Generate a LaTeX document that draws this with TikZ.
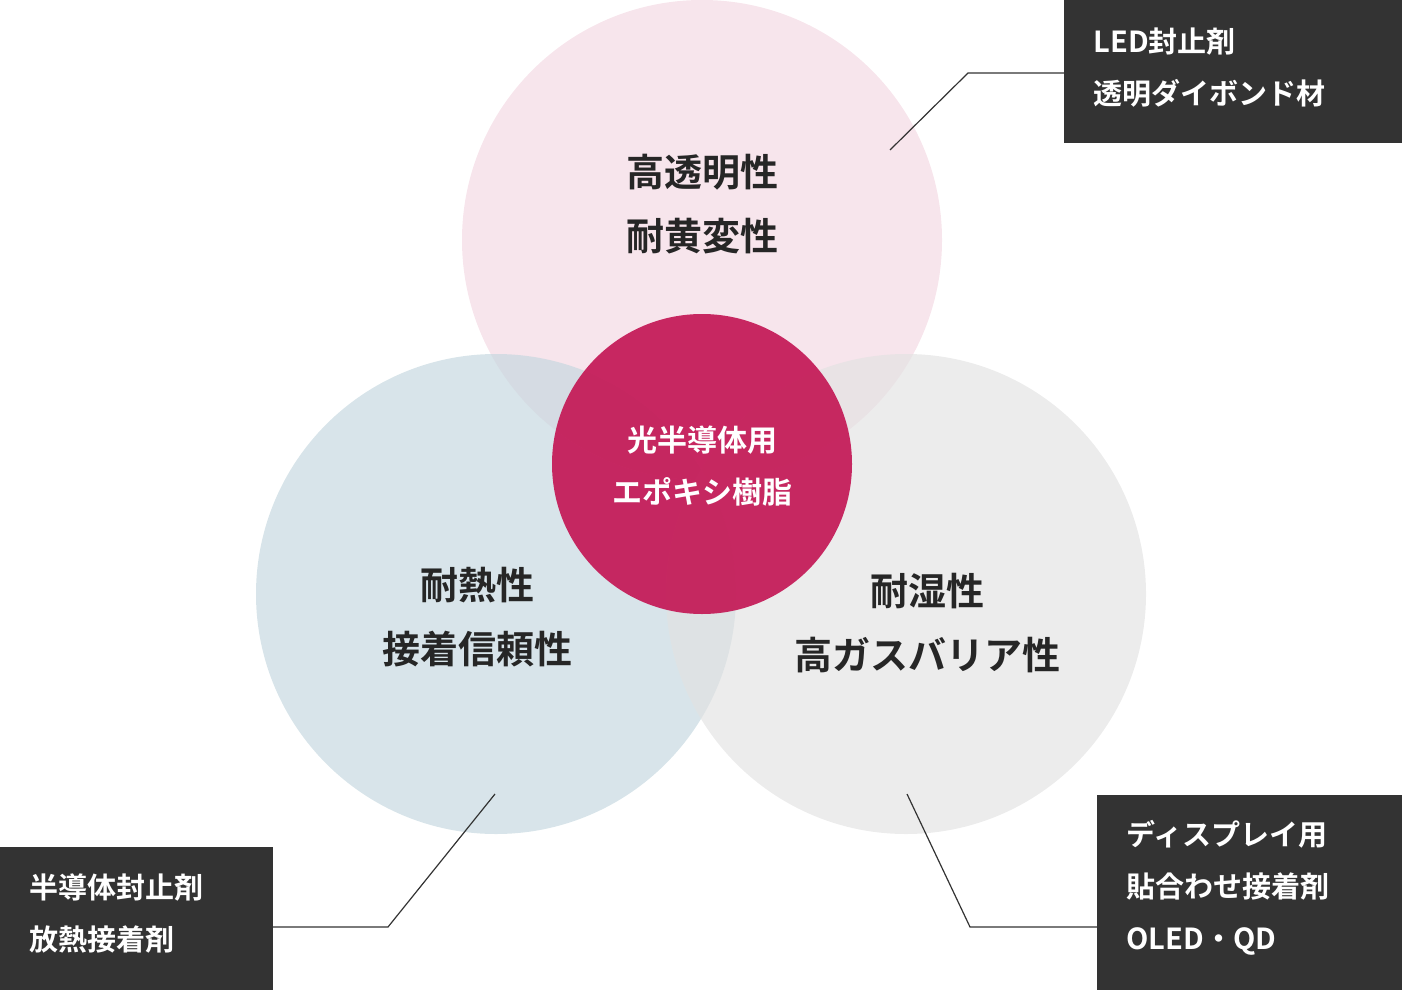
\documentclass[tikz,border=0pt]{standalone}
\usepackage{fontspec}
\setmainfont{Noto Sans CJK JP Bold}
\begin{document}
\begin{tikzpicture}[x=1pt,y=-1pt,
  big/.style={font=\fontsize{38}{64}\selectfont, text=black!85, align=center},
  mid/.style={font=\fontsize{30}{52}\selectfont, text=white, align=center},
  boxt/.style={font=\fontsize{29}{52}\selectfont, text=white, align=left, anchor=north west},
  conn/.style={draw=black!80, line width=1.2pt}]
\useasboundingbox (0,0) rectangle (1402,990);
\definecolor{pk}{HTML}{F2D3DF}
\definecolor{bl}{HTML}{C3D6DE}
\definecolor{gr}{HTML}{E2E2E2}
\definecolor{mg}{HTML}{C51E5A}
\definecolor{dk}{HTML}{333333}
\fill[pk,opacity=0.6] (702,240) circle (240);
\fill[bl,opacity=0.65] (496,594) circle (240);
\fill[gr,opacity=0.65] (906,594) circle (240);
\fill[mg,opacity=0.95] (702,464) circle (150);
\node[big] (t) at (702,204) {高透明性\\耐黄変性};
\node[big] (l) at (477,617) {耐熱性\\接着信頼性};
\node[big] (r) at (927,623) {耐湿性\\高ガスバリア性};
\node[mid] (c) at (702,466) {光半導体用\\エポキシ樹脂};
\fill[dk] (1064,0) rectangle (1402,143);
\fill[dk] (0,847) rectangle (273,990);
\fill[dk] (1097,795) rectangle (1402,990);
\node[boxt] (b1) at (1090,24) {LED封止剤\\透明ダイボンド材};
\node[boxt] (b2) at (26,870) {半導体封止剤\\放熱接着剤};
\node[boxt] (b3) at (1123,817) {ディスプレイ用\\貼合わせ接着剤\\OLED・QD};
\coordinate (p1) at (890,150); \coordinate (q1) at (968,73); \coordinate (e1) at (1064,73);
\coordinate (p2) at (495,794); \coordinate (q2) at (388,927); \coordinate (e2) at (273,927);
\coordinate (p3) at (907,794); \coordinate (q3) at (970,927); \coordinate (e3) at (1097,927);
\draw[conn] (p1) -- (q1) -- (e1);
\draw[conn] (p2) -- (q2) -- (e2);
\draw[conn] (p3) -- (q3) -- (e3);
\end{tikzpicture}
\end{document}
